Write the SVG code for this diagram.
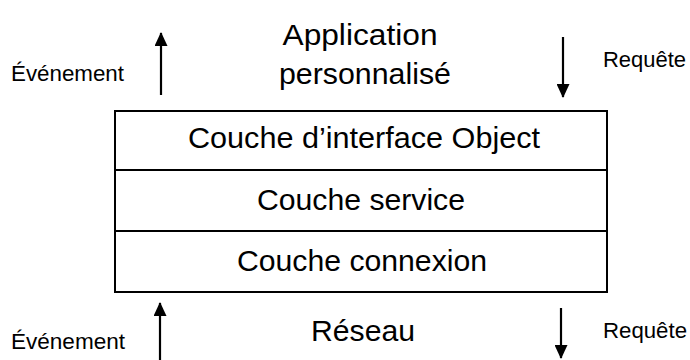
<svg xmlns="http://www.w3.org/2000/svg" width="690" height="360" viewBox="0 0 690 360">
  <style>
    text { font-family: "Liberation Sans", Arial, sans-serif; fill: #000; }
    .side { font-size: 22px; }
    .big { font-size: 30px; text-anchor: middle; }
    .layer { font-size: 29px; text-anchor: middle; }
    .box { fill: #fff; stroke: #000; stroke-width: 2; }
    .arrow { stroke: #000; stroke-width: 2.2; fill: none; marker-end: url(#head); }
  </style>
  <defs>
    <marker id="head" viewBox="0 0 14 13" refX="13" refY="6.5" markerWidth="14" markerHeight="13" orient="auto" markerUnits="userSpaceOnUse">
      <path d="M0,0 L14,6.5 L0,13 z" fill="#000"/>
    </marker>
  </defs>
  <rect width="690" height="360" fill="#fff"/>

  <g id="application">
    <text class="big" x="360" y="45" textLength="155" lengthAdjust="spacingAndGlyphs">Application</text>
    <text class="big" x="365" y="84" textLength="172" lengthAdjust="spacingAndGlyphs">personnalisé</text>
  </g>

  <g id="stack">
    <g id="layer-interface">
      <rect class="box" x="115" y="111" width="492" height="59"/>
      <text class="layer" x="364" y="148" textLength="352" lengthAdjust="spacingAndGlyphs">Couche d’interface Object</text>
    </g>
    <g id="layer-service">
      <rect class="box" x="115" y="170" width="492" height="61"/>
      <text class="layer" x="361" y="210" textLength="208" lengthAdjust="spacingAndGlyphs">Couche service</text>
    </g>
    <g id="layer-connexion">
      <rect class="box" x="115" y="231" width="492" height="61"/>
      <text class="layer" x="362" y="271" textLength="250" lengthAdjust="spacingAndGlyphs">Couche connexion</text>
    </g>
  </g>

  <g id="reseau">
    <text class="big" x="363" y="341" textLength="104" lengthAdjust="spacingAndGlyphs">Réseau</text>
  </g>

  <g id="labels">
    <text class="side" x="11" y="81" textLength="113" lengthAdjust="spacingAndGlyphs">Événement</text>
    <text class="side" x="603" y="67" textLength="83" lengthAdjust="spacingAndGlyphs">Requête</text>
    <text class="side" x="11" y="349" textLength="114" lengthAdjust="spacingAndGlyphs">Événement</text>
    <text class="side" x="603" y="338" textLength="84" lengthAdjust="spacingAndGlyphs">Requête</text>
  </g>

  <g id="connectors">
    <line class="arrow" x1="161" y1="95" x2="161" y2="33"/>
    <line class="arrow" x1="563" y1="37" x2="563" y2="97"/>
    <line class="arrow" x1="160" y1="360" x2="160" y2="303"/>
    <line class="arrow" x1="561" y1="308" x2="561" y2="358"/>
  </g>
</svg>
